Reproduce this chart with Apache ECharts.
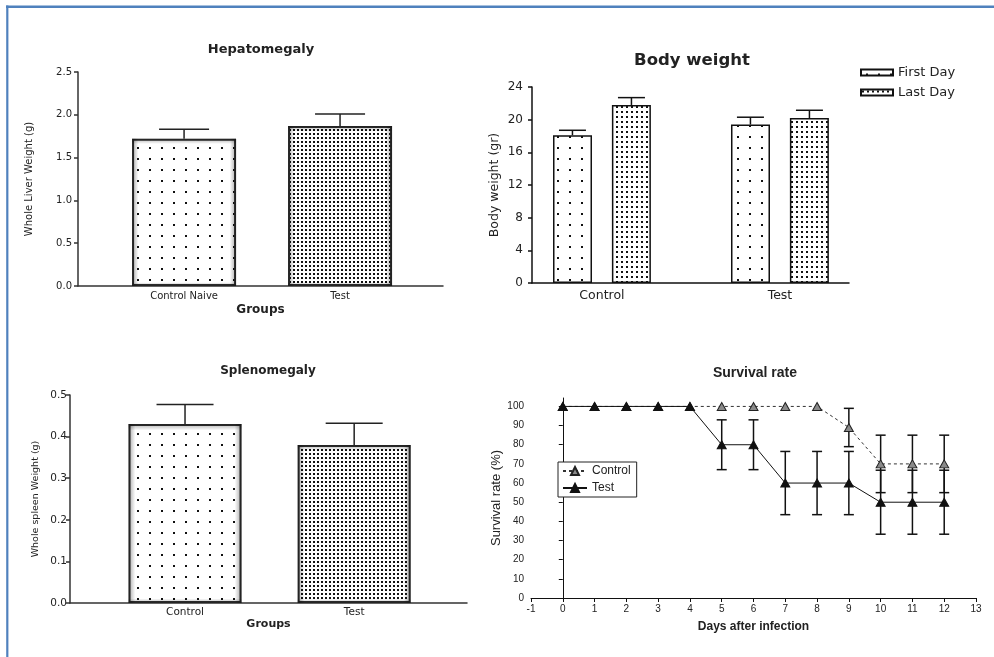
<!DOCTYPE html>
<html><head><meta charset="utf-8">
<script src="https://cdn.jsdelivr.net/npm/echarts@6/dist/echarts.min.js"></script>
<style>html,body{margin:0;padding:0;background:#fff}#c{width:994px;height:657px}</style>
</head><body><div id="c"></div>
<script>
// ---------- DATA ----------
// Hepatomegaly
const hepCategories = ['Control Naive', 'Test'];
const hepValues = [1.72, 1.87];
const hepErrors = [0.11, 0.14];
// Body weight
const bwCategories = ['Control', 'Test'];
const bwSeriesNames = ['First Day', 'Last Day'];
const bwFirstDay = [18.1, 19.4];
const bwFirstErr = [0.6, 0.9];
const bwLastDay = [21.8, 20.2];
const bwLastErr = [0.9, 0.95];
// Splenomegaly
const splCategories = ['Control', 'Test'];
const splValues = [0.43, 0.38];
const splErrors = [0.047, 0.052];
// Survival rate
const survNames = ['Control', 'Test'];
const days = [0,1,2,3,4,5,6,7,8,9,10,11,12];
const survControl = [100,100,100,100,100,100,100,100,100,89,70,70,70];
const survControlErr = [0,0,0,0,0,0,0,0,0,10,15,15,15];
const survTest = [100,100,100,100,100,80,80,60,60,60,50,50,50];
const survTestErr = [0,0,0,0,0,13,13,16.5,16.5,16.5,16.7,16.7,16.7];
const survYTicks = [0,10,20,30,40,50,60,70,80,90,100];

// ---------- STYLE HELPERS ----------
const PRISM = '"DejaVu Sans", sans-serif';
const ARIAL = '"Liberation Sans", Arial, sans-serif';
const TXT = '#222';
function dots(sx, sy, size) {
  const c = document.createElement('canvas'); c.width = sx; c.height = sy;
  const g = c.getContext('2d');
  g.fillStyle = '#fff'; g.fillRect(0, 0, sx, sy);
  g.fillStyle = '#111';
  g.fillRect(Math.floor((sx - size) / 2), Math.floor((sy - size) / 2), size, size);
  return { image: c, repeat: 'repeat' };
}
const sparse = dots(12, 11, 2);
const dense = dots(4, 4, 2);
const bwSparse = dots(12, 11, 2);
const bwDense = dots(5, 5, 2);
const glowH = { type: 'linear', x: 0, y: 0, x2: 1, y2: 0, colorStops: [
  { offset: 0, color: 'rgba(0,0,0,0.35)' }, { offset: 0.06, color: 'rgba(0,0,0,0)' },
  { offset: 0.94, color: 'rgba(0,0,0,0)' }, { offset: 1, color: 'rgba(0,0,0,0.35)' } ] };
const glowV = { type: 'linear', x: 0, y: 0, x2: 0, y2: 1, colorStops: [
  { offset: 0, color: 'rgba(0,0,0,0.3)' }, { offset: 0.035, color: 'rgba(0,0,0,0)' },
  { offset: 0.975, color: 'rgba(0,0,0,0)' }, { offset: 1, color: 'rgba(0,0,0,0.3)' } ] };

function errRender(offsetPx, capW, twoSided, color) {
  return function (params, api) {
    const x = api.value(0), y = api.value(1), e = api.value(2);
    if (!e) return null;
    const top = api.coord([x, y + e]);
    const mid = api.coord([x, y]);
    const bot = api.coord([x, y - e]);
    const cx = top[0] + offsetPx;
    const st = { stroke: color, lineWidth: 1.5 };
    const ch = [
      { type: 'line', shape: { x1: cx, y1: top[1], x2: cx, y2: twoSided ? bot[1] : mid[1] }, style: st },
      { type: 'line', shape: { x1: cx - capW / 2, y1: top[1], x2: cx + capW / 2, y2: top[1] }, style: st }
    ];
    if (twoSided) ch.push({ type: 'line', shape: { x1: cx - capW / 2, y1: bot[1], x2: cx + capW / 2, y2: bot[1] }, style: st });
    return { type: 'group', children: ch };
  };
}
function pos(arr) { return arr.map((_, i) => i + 1); }

function catXAxis(grid, min, max, cats, fs, margin, name, nameFs, nameGap, color, lw) {
  return {
    type: 'value', gridIndex: grid, min: min, max: max,
    splitLine: { show: false },
    axisLine: { show: true, onZero: false, lineStyle: { color: color, width: lw } },
    axisTick: { show: false },
    axisLabel: { customValues: pos(cats), formatter: v => cats[Math.round(v) - 1] || '',
      fontFamily: PRISM, fontSize: fs, color: TXT, margin: margin },
    name: name, nameLocation: 'middle', nameGap: nameGap,
    nameTextStyle: { fontFamily: PRISM, fontWeight: 'bold', fontSize: nameFs, color: TXT }
  };
}
function valYAxis(grid, min, max, interval, fmt, fs, margin, name, nameFs, nameGap, color, lw) {
  return {
    type: 'value', gridIndex: grid, min: min, max: max, interval: interval,
    splitLine: { show: false },
    axisLine: { show: true, lineStyle: { color: color, width: lw } },
    axisTick: { show: true, length: 4, lineStyle: { color: color, width: lw } },
    axisLabel: { formatter: fmt, fontFamily: PRISM, fontSize: fs, color: TXT, margin: margin },
    name: name, nameLocation: 'middle', nameGap: nameGap,
    nameTextStyle: { fontFamily: PRISM, fontSize: nameFs, color: TXT }
  };
}
function glowSeries(xi, values, w, color) {
  return { type: 'bar', name: 'glow' + xi + (color === glowH ? 'h' : 'v'), xAxisIndex: xi, yAxisIndex: xi,
    barWidth: w, barGap: '-100%', silent: true,
    itemStyle: { color: color },
    data: values.map((v, i) => [i + 1, v]) };
}

const option = {
  animation: false,
  backgroundColor: '#fff',
  title: [
    { text: 'Hepatomegaly', left: 261, top: 43, textAlign: 'center', padding: 0,
      textStyle: { fontFamily: PRISM, fontWeight: 'bold', fontSize: 13, color: TXT } },
    { text: 'Body weight', left: 692, top: 52, textAlign: 'center', padding: 0,
      textStyle: { fontFamily: PRISM, fontWeight: 'bold', fontSize: 16.5, color: TXT } },
    { text: 'Splenomegaly', left: 268, top: 365, textAlign: 'center', padding: 0,
      textStyle: { fontFamily: PRISM, fontWeight: 'bold', fontSize: 12, color: TXT } },
    { text: 'Survival rate', left: 755, top: 366, textAlign: 'center', padding: 0,
      textStyle: { fontFamily: ARIAL, fontWeight: 'bold', fontSize: 14, color: TXT } }
  ],
  legend: [
    { data: bwSeriesNames, left: 860, top: 66, orient: 'vertical', padding: 0,
      itemWidth: 32, itemHeight: 6, itemGap: 7, itemTextGap: 2, icon: 'rect',
      textStyle: { fontFamily: PRISM, fontSize: 13, color: TXT } },
    { data: survNames, left: 558, top: 462, orient: 'vertical', padding: [3, 6, 3, 4],
      itemWidth: 24, itemHeight: 10, itemGap: 5, itemTextGap: 2,
      borderColor: '#222', borderWidth: 1, backgroundColor: '#fff',
      textStyle: { fontFamily: ARIAL, fontSize: 12, color: TXT } }
  ],
  grid: [
    { left: 78, top: 72, width: 365, height: 214 },
    { left: 532, top: 87, width: 317, height: 196 },
    { left: 70, top: 395, width: 397, height: 208 },
    { left: 531, top: 398, width: 445, height: 200 }
  ],
  xAxis: [
    catXAxis(0, 0.32, 2.66, hepCategories, 10, 5, 'Groups', 12, 18, '#333', 1.5),
    catXAxis(1, 0.607, 2.388, bwCategories, 12.5, 6, '', 12, 20, '#111', 1.5),
    catXAxis(2, 0.32, 2.667, splCategories, 10.5, 4, 'Groups', 11, 16, '#333', 1.5),
    {
      type: 'value', gridIndex: 3, min: -1, max: 13, interval: 1,
      splitLine: { show: false },
      axisLine: { show: true, onZero: false, lineStyle: { color: '#111', width: 1 } },
      axisTick: { show: true, length: 4, lineStyle: { color: '#111' } },
      axisLabel: { fontFamily: ARIAL, fontSize: 10, color: TXT, margin: 6 },
      name: 'Days after infection', nameLocation: 'middle', nameGap: 23,
      nameTextStyle: { fontFamily: ARIAL, fontWeight: 'bold', fontSize: 12, color: TXT }
    }
  ],
  yAxis: [
    valYAxis(0, 0, 2.5, 0.5, v => v.toFixed(1), 10, 6, 'Whole Liver Weight (g)', 10, 44, '#333', 1.5),
    valYAxis(1, 0, 24, 4, v => String(v), 12, 9, 'Body weight (gr)', 12.5, 31, '#111', 1.5),
    valYAxis(2, 0, 0.5, 0.1, v => v.toFixed(1), 10.5, 3, 'Whole spleen Weight (g)', 9.5, 29, '#333', 1.5),
    {
      type: 'value', gridIndex: 3, min: 0, max: 104.4,
      splitLine: { show: false },
      axisLine: { show: true, lineStyle: { color: '#111', width: 1 } },
      axisTick: { show: true, length: 4, customValues: survYTicks, lineStyle: { color: '#111' } },
      axisLabel: { customValues: survYTicks, fontFamily: ARIAL, fontSize: 10, color: TXT, margin: 7 },
      name: 'Survival rate (%)', nameLocation: 'middle', nameGap: 27,
      nameTextStyle: { fontFamily: ARIAL, fontSize: 13, color: TXT }
    }
  ],
  series: [
    // Hepatomegaly
    { type: 'bar', name: 'hep', xAxisIndex: 0, yAxisIndex: 0, barWidth: 104, barGap: '-100%', silent: true,
      itemStyle: { borderColor: '#333', borderWidth: 2 },
      data: hepValues.map((v, i) => ({ value: [i + 1, v], itemStyle: { color: i === 0 ? sparse : dense } })) },
    glowSeries(0, hepValues, 104, glowH),
    glowSeries(0, hepValues, 104, glowV),
    { type: 'custom', name: 'hepErr', xAxisIndex: 0, yAxisIndex: 0, silent: true, z: 3,
      renderItem: errRender(0, 50, false, '#222'),
      data: hepValues.map((v, i) => [i + 1, v, hepErrors[i]]) },
    // Body weight
    { type: 'bar', name: bwSeriesNames[0], xAxisIndex: 1, yAxisIndex: 1, barWidth: 39, barGap: '51%', silent: true,
      itemStyle: { color: bwSparse, borderColor: '#111', borderWidth: 1.5 },
      data: bwFirstDay.map((v, i) => [i + 1, v]) },
    { type: 'bar', name: bwSeriesNames[1], xAxisIndex: 1, yAxisIndex: 1, barWidth: 39, barGap: '51%', silent: true,
      itemStyle: { color: bwDense, borderColor: '#111', borderWidth: 1.5 },
      data: bwLastDay.map((v, i) => [i + 1, v]) },
    { type: 'custom', name: 'bwErr1', xAxisIndex: 1, yAxisIndex: 1, silent: true, z: 3,
      renderItem: errRender(-29.5, 27, false, '#111'),
      data: bwFirstDay.map((v, i) => [i + 1, v, bwFirstErr[i]]) },
    { type: 'custom', name: 'bwErr2', xAxisIndex: 1, yAxisIndex: 1, silent: true, z: 3,
      renderItem: errRender(29.5, 27, false, '#111'),
      data: bwLastDay.map((v, i) => [i + 1, v, bwLastErr[i]]) },
    // Splenomegaly
    { type: 'bar', name: 'spl', xAxisIndex: 2, yAxisIndex: 2, barWidth: 113, barGap: '-100%', silent: true,
      itemStyle: { borderColor: '#333', borderWidth: 2 },
      data: splValues.map((v, i) => ({ value: [i + 1, v], itemStyle: { color: i === 0 ? sparse : dense } })) },
    glowSeries(2, splValues, 113, glowH),
    glowSeries(2, splValues, 113, glowV),
    { type: 'custom', name: 'splErr', xAxisIndex: 2, yAxisIndex: 2, silent: true, z: 3,
      renderItem: errRender(0, 57, false, '#222'),
      data: splValues.map((v, i) => [i + 1, v, splErrors[i]]) },
    // Survival
    { type: 'custom', name: 'survErrC', xAxisIndex: 3, yAxisIndex: 3, silent: true, z: 1,
      renderItem: errRender(0, 10, true, '#111'),
      data: days.map((d, i) => [d, survControl[i], survControlErr[i]]) },
    { type: 'custom', name: 'survErrT', xAxisIndex: 3, yAxisIndex: 3, silent: true, z: 1,
      renderItem: errRender(0, 10, true, '#111'),
      data: days.map((d, i) => [d, survTest[i], survTestErr[i]]) },
    { type: 'line', name: survNames[0], xAxisIndex: 3, yAxisIndex: 3, z: 3,
      symbol: 'triangle', symbolSize: [9, 8],
      lineStyle: { color: '#333', width: 1, type: [3, 3] },
      itemStyle: { color: '#8a8a8a', borderColor: '#222', borderWidth: 1 },
      data: days.map((d, i) => [d, survControl[i]]) },
    { type: 'line', name: survNames[1], xAxisIndex: 3, yAxisIndex: 3, z: 4,
      symbol: 'triangle', symbolSize: [9, 8],
      lineStyle: { color: '#111', width: 1 },
      itemStyle: { color: '#111', borderColor: '#111', borderWidth: 1 },
      data: days.map((d, i) => [d, survTest[i]]) }
  ],
  graphic: [
    { type: 'line', shape: { x1: 6, y1: 6.8, x2: 994, y2: 6.8 }, style: { stroke: '#4f81bd', lineWidth: 2.4 }, silent: true },
    { type: 'line', shape: { x1: 7.3, y1: 5.6, x2: 7.3, y2: 657 }, style: { stroke: '#4f81bd', lineWidth: 2.2 }, silent: true }
  ]
};
const chart = echarts.init(document.getElementById('c'), null, { renderer: 'canvas' });
chart.setOption(option);
</script></body></html>
